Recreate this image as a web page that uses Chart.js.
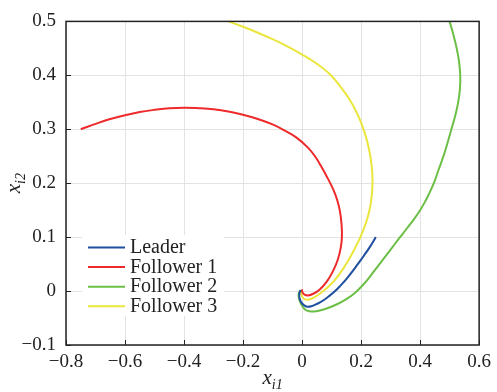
<!DOCTYPE html>
<html>
<head>
<meta charset="utf-8">
<script src="https://cdn.jsdelivr.net/npm/chart.js@4.4.1/dist/chart.umd.min.js"></script>
<style>
  body { margin: 0; background: #fff; }
  #box { width: 497px; height: 392px; }
</style>
</head>
<body>
<div id="box"><canvas id="grafico" width="497" height="392"></canvas></div>
<script>
// trajectories, as [x_i1, x_i2]
var leader = [[0.25, 0.10], [0.23, 0.082], [0.21, 0.066], [0.19, 0.051], [0.17, 0.036], [0.15, 0.022],
  [0.13, 0.01], [0.11, -0.001], [0.09, -0.01], [0.07, -0.018], [0.05, -0.024], [0.032, -0.028],
  [0.018, -0.029], [0.006, -0.026], [-0.004, -0.02], [-0.009, -0.012], [-0.009, -0.004], [-0.005, 0.002]];
var follower1 = [[-0.75, 0.300], [-0.70, 0.310], [-0.65, 0.319], [-0.60, 0.326], [-0.55, 0.332], [-0.50, 0.336],
  [-0.45, 0.339], [-0.40, 0.340], [-0.35, 0.339], [-0.30, 0.337], [-0.25, 0.333], [-0.20, 0.327],
  [-0.15, 0.319], [-0.10, 0.309], [-0.06, 0.298], [-0.02, 0.285], [0.02, 0.266], [0.045, 0.249],
  [0.067, 0.229], [0.087, 0.209], [0.106, 0.188], [0.12, 0.167], [0.129, 0.146], [0.134, 0.122],
  [0.135, 0.10], [0.131, 0.08], [0.121, 0.058], [0.104, 0.036], [0.083, 0.017], [0.06, 0.003],
  [0.038, -0.005], [0.02, -0.008], [0.007, -0.006], [0.001, -0.002], [0.0, 0.003]];
var follower2 = [[0.5, 0.5], [0.513, 0.475], [0.524, 0.45], [0.532, 0.425], [0.536, 0.40], [0.535, 0.375],
  [0.529, 0.35], [0.519, 0.325], [0.506, 0.30], [0.493, 0.275], [0.479, 0.25], [0.462, 0.224],
  [0.4465, 0.20], [0.43, 0.18], [0.415, 0.164], [0.40, 0.15], [0.38, 0.134], [0.355, 0.116],
  [0.33, 0.0985], [0.30, 0.077], [0.27, 0.0555], [0.24, 0.034], [0.21, 0.0135], [0.18, -0.003],
  [0.15, -0.015], [0.12, -0.024], [0.09, -0.031], [0.06, -0.036], [0.04, -0.038], [0.025, -0.0375],
  [0.012, -0.035], [0.002, -0.029], [-0.006, -0.021], [-0.011, -0.012], [-0.011, -0.004], [-0.006, 0.001]];
var follower3 = [[-0.25, 0.5], [-0.2, 0.490], [-0.15, 0.479], [-0.1, 0.467], [-0.05, 0.4535], [0.0, 0.4385],
  [0.05, 0.4215], [0.095, 0.4017], [0.13, 0.379], [0.16, 0.356], [0.185, 0.331], [0.205, 0.305],
  [0.221, 0.277], [0.232, 0.248], [0.238, 0.218], [0.238, 0.19], [0.233, 0.163], [0.224, 0.14],
  [0.211, 0.118], [0.196, 0.098], [0.178, 0.078], [0.158, 0.058], [0.135, 0.038], [0.11, 0.02],
  [0.085, 0.006], [0.06, -0.005], [0.04, -0.012], [0.022, -0.016], [0.009, -0.015], [0.0, -0.01],
  [-0.004, -0.003], [-0.002, 0.003]];

var seriesNames = ["Leader", "Follower 1", "Follower 2", "Follower 3"];
var seriesColors = ["#1f4fa0", "#ee2a2a", "#6cbf45", "#ebe63c"];
var xTickLabels = ["\u22120.8", "\u22120.6", "\u22120.4", "\u22120.2", "0", "0.2", "0.4", "0.6"];
var yTickLabels = ["\u22120.1", "0", "0.1", "0.2", "0.3", "0.4", "0.5"];

var fonte = "Liberation Serif";

function pontos(lista) {
  return lista.map(function(p) { return { x: p[0], y: p[1] }; });
}

var conjuntos = [leader, follower1, follower2, follower3].map(function(serie, i) {
  return {
    label: seriesNames[i],
    data: pontos(serie),
    borderColor: seriesColors[i],
    backgroundColor: seriesColors[i],
    borderWidth: 2,
    pointRadius: 0,
    showLine: true,
    tension: 0.4,
    fill: false
  };
});

// frame, inward ticks, axis titles and legend
var extras = {
  id: "extras",
  afterDatasetsDraw: function(chart) {
    var ctx = chart.ctx, a = chart.chartArea;
    var sx = chart.scales.x, sy = chart.scales.y;
    ctx.save();
    ctx.strokeStyle = "#222";
    ctx.lineWidth = 1.5;
    ctx.strokeRect(a.left, a.top, a.right - a.left, a.bottom - a.top);
    ctx.lineWidth = 1;
    ctx.beginPath();
    sx.ticks.forEach(function(t) {
      var px = Math.round(sx.getPixelForValue(t.value)) + 0.5;
      ctx.moveTo(px, a.bottom); ctx.lineTo(px, a.bottom - 5);
    });
    sy.ticks.forEach(function(t) {
      var py = Math.round(sy.getPixelForValue(t.value)) + 0.5;
      ctx.moveTo(a.left, py); ctx.lineTo(a.left + 5, py);
    });
    ctx.stroke();

    // legend
    ctx.fillStyle = "#fff";
    ctx.fillRect(82, 235, 142, 81);
    ctx.font = "20px '" + fonte + "'";
    ctx.textBaseline = "alphabetic";
    ctx.textAlign = "left";
    seriesNames.forEach(function(nome, i) {
      var ly = 247.5 + i * 19.6;
      ctx.strokeStyle = seriesColors[i];
      ctx.lineWidth = 2;
      ctx.beginPath(); ctx.moveTo(88, ly); ctx.lineTo(125, ly); ctx.stroke();
      ctx.fillStyle = "#222";
      ctx.fillText(nome, 130, ly + 5.5);
    });

    // axis titles with subscripts
    function rotulo(sub, cx, cy) {
      ctx.font = "italic 21px '" + fonte + "'";
      var w1 = ctx.measureText("x").width;
      ctx.font = "italic 14px '" + fonte + "'";
      var w2 = ctx.measureText(sub).width;
      var x0 = cx - (w1 + w2) / 2;
      ctx.fillStyle = "#222";
      ctx.font = "italic 21px '" + fonte + "'";
      ctx.fillText("x", x0, cy);
      ctx.font = "italic 14px '" + fonte + "'";
      ctx.fillText(sub, x0 + w1, cy + 5);
    }
    rotulo("i1", (a.left + a.right) / 2, 384);
    ctx.translate(20, (a.top + a.bottom) / 2);
    ctx.rotate(-Math.PI / 2);
    rotulo("i2", 0, 0);
    ctx.restore();
  }
};

var canvas = document.getElementById("grafico");
var grafico = new Chart(canvas.getContext("2d"), {
  type: "scatter",
  data: { datasets: conjuntos },
  options: {
    responsive: false,
    animation: false,
    layout: { padding: { left: 0, right: 15, top: 16, bottom: 0 } },
    plugins: { legend: { display: false }, tooltip: { enabled: false } },
    scales: {
      x: {
        min: -0.8, max: 0.6,
        ticks: {
          stepSize: 0.2, padding: 6, color: "#222",
          font: { family: fonte, size: 19 },
          callback: function(v, i) { return xTickLabels[i]; }
        },
        grid: { color: "#e3e3e3", lineWidth: 1, drawTicks: false },
        border: { display: false },
        afterFit: function(s) { s.height = 47; }
      },
      y: {
        min: -0.1, max: 0.5,
        ticks: {
          stepSize: 0.1, padding: 10, color: "#222",
          font: { family: fonte, size: 19 },
          callback: function(v, i) { return yTickLabels[i]; }
        },
        grid: { color: "#e3e3e3", lineWidth: 1, drawTicks: false },
        border: { display: false },
        afterFit: function(s) { s.width = 66; }
      }
    }
  },
  plugins: [extras]
});
</script>
</body>
</html>
